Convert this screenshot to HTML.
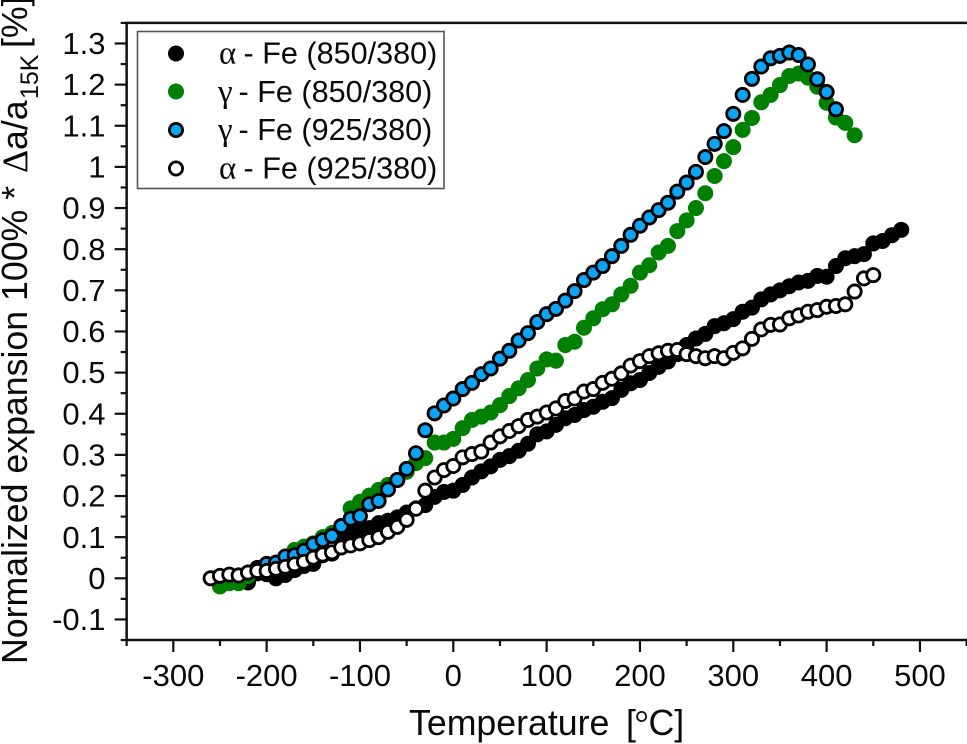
<!DOCTYPE html>
<html>
<head>
<meta charset="utf-8">
<style>
html,body{margin:0;padding:0;background:#fff;}
svg{display:block;}
text{font-family:"Liberation Sans",sans-serif;fill:#0a0a0a;}
.serif{font-family:"Liberation Serif",serif;}
</style>
</head>
<body>
<svg id="chart" width="967" height="744" viewBox="0 0 967 744" xmlns="http://www.w3.org/2000/svg">
  <g id="axes"></g>
  <g id="series"></g>
  <g>
    <rect x="137.5" y="31.5" width="306.5" height="157" fill="#fff" stroke="#555" stroke-width="1.6"/>
    <g>
      <circle cx="176" cy="53.5" r="8" fill="#000"/>
      <text y="63.5" font-size="30.6"><tspan class="serif" x="219" font-size="33">α</tspan><tspan x="243.5">- Fe (850/380)</tspan></text>
    </g>
    <g>
      <circle cx="176" cy="91.5" r="8" fill="#008000"/>
      <text y="102" font-size="30.6"><tspan class="serif" x="218" font-size="33">γ</tspan><tspan x="238.5">- Fe (850/380)</tspan></text>
    </g>
    <g>
      <circle cx="176" cy="130" r="6.6" fill="#0aa5f5" stroke="#000" stroke-width="2.8"/>
      <text y="140" font-size="30.6"><tspan class="serif" x="218" font-size="33">γ</tspan><tspan x="238.5">- Fe (925/380)</tspan></text>
    </g>
    <g>
      <circle cx="176" cy="168.5" r="6.6" fill="#fff" stroke="#000" stroke-width="2.8"/>
      <text y="178.5" font-size="30.6"><tspan class="serif" x="219" font-size="33">α</tspan><tspan x="243.5">- Fe (925/380)</tspan></text>
    </g>
  </g>
  <text x="409" y="735" font-size="35.7">Temperature<tspan x="626">[</tspan><tspan class="serif" x="634.5">°</tspan><tspan x="648.5">C]</tspan></text>
  <text transform="translate(27,664) rotate(-90)" font-size="35.7">Normalized expansion 100% *<tspan class="serif" x="491" font-size="36">Δ</tspan><tspan x="514">a/a</tspan><tspan x="565" dy="11" font-size="25">15K</tspan><tspan x="616" dy="-11">[%]</tspan></text>
</svg>
<script>
var alpha850Temps = [
 -250,-240,-230,-220,-210,-200,-190,-180,-170,-160,
 -150,-140,-130,-120,-110,-100,-90,-80,-70,-60,
 -50,-40,-30,-20,-10,0,10,20,30,40,
 50,60,70,80,90,100,110,120,130,140,
 150,160,170,180,190,200,210,220,230,240,
 250,260,270,280,290,300,310,320,330,340,
 350,360,370,380,390,400,410,420,430,440,
 450,460,470,480];
var alpha850Values = [
 0,0.005,0.005,-0.01,0.012,0.01,0,0.008,0.02,0.03,
 0.035,0.056,0.06,0.094,0.11,0.115,0.122,0.134,0.14,0.148,
 0.16,0.17,0.178,0.198,0.21,0.213,0.227,0.245,0.26,0.272,
 0.288,0.297,0.31,0.327,0.35,0.357,0.373,0.389,0.397,0.409,
 0.417,0.429,0.438,0.458,0.474,0.482,0.499,0.514,0.527,0.545,
 0.567,0.583,0.594,0.613,0.62,0.63,0.648,0.658,0.678,0.69,
 0.7,0.71,0.719,0.723,0.735,0.733,0.759,0.778,0.783,0.788,
 0.814,0.82,0.834,0.847];

var gamma850Temps = [
 -250,-240,-230,-220,-210,-200,-190,-180,-170,-160,
 -150,-140,-130,-120,-110,-100,-90,-80,-70,-60,
 -50,-40,-30,-20,-10,0,10,20,30,40,
 50,60,70,80,90,100,110,120,130,140,
 150,160,170,180,190,200,210,220,230,240,
 250,260,270,280,290,300,310,320,330,340,
 350,360,370,380,390,400,410,420,430];
var gamma850Values = [
 -0.02,-0.012,-0.012,0.005,0.025,0.03,0.037,0.05,0.069,0.077,
 0.085,0.1,0.11,0.127,0.17,0.186,0.201,0.215,0.227,0.239,
 0.259,0.28,0.292,0.33,0.33,0.339,0.365,0.385,0.393,0.403,
 0.421,0.443,0.462,0.482,0.51,0.532,0.529,0.567,0.575,0.609,
 0.632,0.654,0.666,0.69,0.711,0.743,0.761,0.792,0.808,0.844,
 0.87,0.9,0.936,0.978,1.014,1.048,1.09,1.119,1.157,1.175,
 1.199,1.221,1.227,1.217,1.195,1.156,1.12,1.107,1.077];

var gamma925Temps = [
 -210,-200,-190,-180,-170,-160,-150,-140,-130,-120,
 -110,-100,-90,-80,-70,-60,-50,-40,-30,-20,
 -10,0,10,20,30,40,50,60,70,80,
 90,100,110,120,130,140,150,160,170,180,
 190,200,210,220,230,240,250,260,270,280,
 290,300,310,320,330,340,350,360,370,380,
 390,400,410];
var gamma925Values = [
 0.025,0.035,0.038,0.053,0.056,0.067,0.083,0.093,0.103,0.127,
 0.145,0.151,0.18,0.188,0.216,0.239,0.266,0.304,0.36,0.401,
 0.42,0.437,0.46,0.475,0.496,0.51,0.534,0.553,0.578,0.596,
 0.623,0.642,0.655,0.675,0.698,0.725,0.743,0.759,0.783,0.808,
 0.835,0.857,0.877,0.895,0.913,0.94,0.962,0.988,1.024,1.056,
 1.087,1.129,1.175,1.214,1.244,1.264,1.27,1.278,1.272,1.249,
 1.213,1.182,1.14];

var alpha925Temps = [
 -260,-250,-240,-230,-220,-210,-200,-190,-180,-170,
 -160,-150,-140,-130,-120,-110,-100,-90,-80,-70,
 -60,-50,-40,-30,-20,-10,0,10,20,30,
 40,50,60,70,80,90,100,110,120,130,
 140,150,160,170,180,190,200,210,220,230,
 240,250,260,270,280,290,300,310,320,330,
 340,350,360,370,380,390,400,410,420,430,
 440,450];
var alpha925Values = [
 0,0.006,0.009,0.007,0.014,0.018,0.018,0.023,0.028,0.034,
 0.04,0.05,0.058,0.063,0.075,0.08,0.085,0.093,0.1,0.113,
 0.125,0.142,0.169,0.213,0.245,0.263,0.273,0.294,0.302,0.308,
 0.33,0.345,0.358,0.37,0.385,0.393,0.403,0.413,0.431,0.437,
 0.454,0.46,0.475,0.485,0.498,0.517,0.528,0.54,0.547,0.553,
 0.555,0.545,0.54,0.535,0.54,0.535,0.548,0.559,0.582,0.605,
 0.616,0.617,0.632,0.639,0.648,0.652,0.66,0.662,0.666,0.697,
 0.729,0.737];

var xTickLabels = ["-300","-200","-100","0","100","200","300","400","500"];
var yTickLabels = ["-0.1","0","0.1","0.2","0.3","0.4","0.5","0.6","0.7","0.8","0.9","1","1.1","1.2","1.3"];
var xMinorTicks = [-350,-250,-150,-50,50,150,250,350,450,550];
var yMinorTicks = [-0.15,-0.05,0.05,0.15,0.25,0.35,0.45,0.55,0.65,0.75,0.85,0.95,1.05,1.15,1.25,1.35];

var xScale = function (t) { return 453.3 + t * 0.9333; };
var yScale = function (v) { return 578.3 - v * 411.4; };

var NS = 'http://www.w3.org/2000/svg';
var axes = document.getElementById('axes');
var seriesLayer = document.getElementById('series');

function drawLine(parent, name, x1, y1, x2, y2, w) {
  var l = document.createElementNS(NS, 'line');
  
  
  l.setAttribute('x1', x1);
  l.setAttribute('y1', y1);
  l.setAttribute('x2', x2);
  l.setAttribute('y2', y2);
  l.setAttribute('stroke', '#111');
  l.setAttribute('stroke-width', w);
  parent.appendChild(l);
}

var axisLeft = xScale(-350);
var axisTop = yScale(1.35);
var axisBottom = yScale(-0.15);

drawLine(axes, 'x-axis-line', axisLeft - 1.2, axisBottom, 967, axisBottom, 2.5);
drawLine(axes, 'top-axis-line', axisLeft - 1.2, axisTop, 967, axisTop, 2.5);
drawLine(axes, 'y-axis-line', axisLeft, axisTop, axisLeft, axisBottom, 2.5);

xTickLabels.forEach(function (lab) {
  var v = parseFloat(lab);
  drawLine(axes, 'x-major-tick', xScale(v), axisBottom, xScale(v), axisBottom + 12, 2.2);
  var t = document.createElementNS(NS, 'text');
  
  
  t.setAttribute('x', xScale(v));
  t.setAttribute('y', 686);
  t.setAttribute('font-size', '31');
  t.setAttribute('text-anchor', 'middle');
  t.textContent = lab;
  axes.appendChild(t);
});
xMinorTicks.forEach(function (v) {
  drawLine(axes, 'x-minor-tick', xScale(v), axisBottom, xScale(v), axisBottom + 6, 2.2);
});
yTickLabels.forEach(function (lab) {
  var v = parseFloat(lab);
  drawLine(axes, 'y-major-tick', axisLeft - 12, yScale(v), axisLeft, yScale(v), 2.2);
  var t = document.createElementNS(NS, 'text');
  
  
  t.setAttribute('x', 105.5);
  t.setAttribute('y', yScale(v) + 10.6);
  t.setAttribute('font-size', '31');
  t.setAttribute('text-anchor', 'end');
  t.textContent = lab;
  axes.appendChild(t);
});
yMinorTicks.forEach(function (v) {
  drawLine(axes, 'y-minor-tick', axisLeft - 6, yScale(v), axisLeft, yScale(v), 2.2);
});

function drawSeries(name, temps, values, fill, outlined) {
  var g = document.createElementNS(NS, 'g');
  
  
  temps.forEach(function (t, i) {
    var c = document.createElementNS(NS, 'circle');
    
    
    c.setAttribute('cx', xScale(t));
    c.setAttribute('cy', yScale(values[i]));
    c.setAttribute('r', outlined ? 6.6 : 8);
    c.setAttribute('fill', fill);
    if (outlined) {
      c.setAttribute('stroke', '#000');
      c.setAttribute('stroke-width', 2.8);
    }
    g.appendChild(c);
  });
  seriesLayer.appendChild(g);
}

drawSeries('series-alpha-850', alpha850Temps, alpha850Values, '#000', false);
drawSeries('series-gamma-850', gamma850Temps, gamma850Values, '#008000', false);
drawSeries('series-gamma-925', gamma925Temps, gamma925Values, '#0aa5f5', true);
drawSeries('series-alpha-925', alpha925Temps, alpha925Values, '#fff', true);
</script>
</body>
</html>
